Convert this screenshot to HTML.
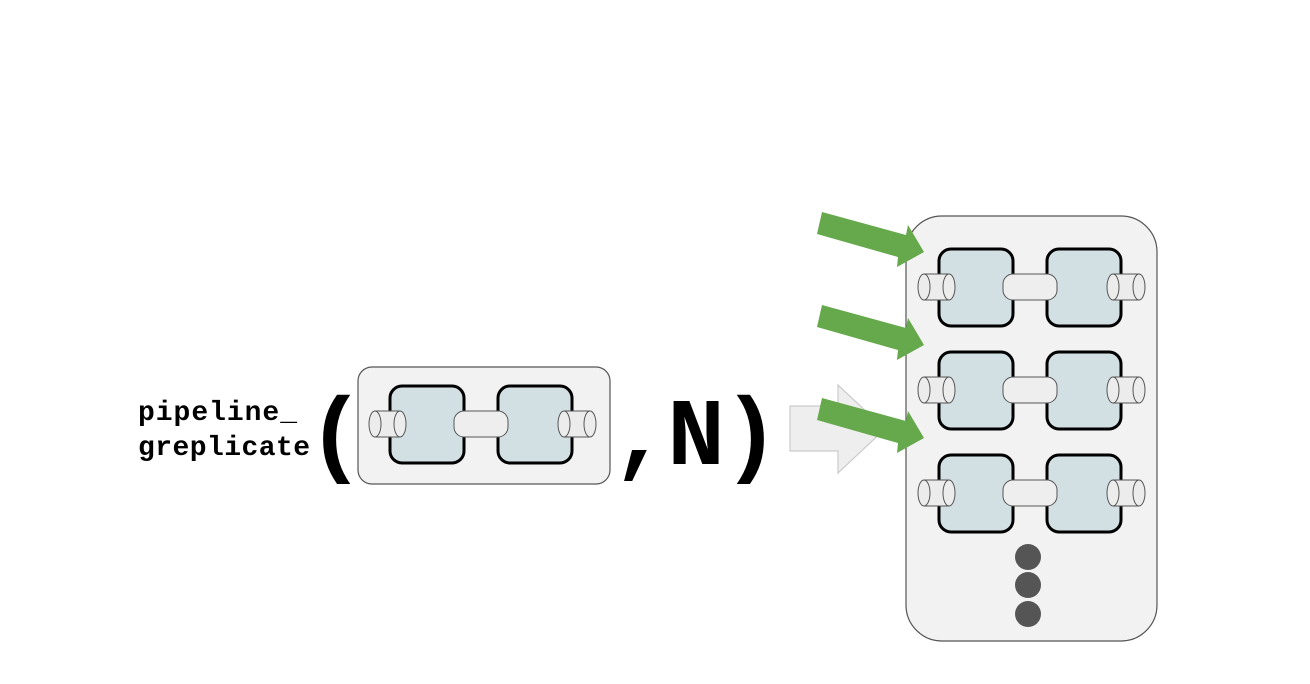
<!DOCTYPE html>
<html><head><meta charset="utf-8"><style>
html,body{margin:0;padding:0;background:#fff;width:1310px;height:684px;overflow:hidden}
svg{display:block}
</style></head><body>
<svg width="1310" height="684" viewBox="0 0 1310 684">
<defs>
<g id="pipe">
  <rect x="0" y="0" width="74" height="77" rx="12" fill="#d2e0e3" stroke="#000" stroke-width="3"/>
  <rect x="108" y="0" width="74" height="77" rx="12" fill="#d2e0e3" stroke="#000" stroke-width="3"/>
  <path d="M-15 25 H10 V51 H-15 Z" fill="#ececec" stroke="#555" stroke-width="1"/>
  <ellipse cx="-15" cy="38" rx="6" ry="13" fill="#ececec" stroke="#555" stroke-width="1"/>
  <ellipse cx="10" cy="38" rx="6" ry="13" fill="#ececec" stroke="#555" stroke-width="1"/>
  <rect x="64" y="25" width="54" height="26" rx="10" fill="#eeeeee" stroke="#555" stroke-width="1"/>
  <path d="M174 25 H200 V51 H174 Z" fill="#ececec" stroke="#555" stroke-width="1"/>
  <ellipse cx="174" cy="38" rx="6" ry="13" fill="#ececec" stroke="#555" stroke-width="1"/>
  <ellipse cx="200" cy="38" rx="6" ry="13" fill="#ececec" stroke="#555" stroke-width="1"/>
</g>
</defs>
<text x="138" y="420" font-family="Liberation Mono, monospace" font-weight="bold" font-size="28" fill="#000" textLength="159">pipeline_</text>
<text x="138" y="455" font-family="Liberation Mono, monospace" font-weight="bold" font-size="28" fill="#000" textLength="172">greplicate</text>
<text x="307" y="464" font-family="Liberation Mono, monospace" font-weight="bold" font-size="96" fill="#000">(</text>
<g>
  <rect x="358" y="367" width="252" height="117" rx="14" fill="#f2f2f2" stroke="#555" stroke-width="1.2"/>
  <use href="#pipe" x="390" y="386"/>
</g>
<text x="612" y="464" font-family="Liberation Mono, monospace" font-weight="bold" font-size="96" fill="#000" textLength="168">,N)</text>
<polygon points="790,406 838,406 838,385 885,429 838,473 838,451 790,451" fill="#eeeeee" stroke="#cccccc" stroke-width="1.2"/>
<g>
  <rect x="906" y="216" width="251" height="425" rx="36" fill="#f2f2f2" stroke="#555" stroke-width="1.2"/>
  <use href="#pipe" x="939" y="249"/>
  <use href="#pipe" x="939" y="352"/>
  <use href="#pipe" x="939" y="455"/>
  <circle cx="1028" cy="557" r="13" fill="#555"/>
  <circle cx="1028" cy="585" r="13" fill="#555"/>
  <circle cx="1028" cy="614" r="13" fill="#555"/>
</g>
<g fill="#66a84c">
  <polygon points="822,212 906,235 908,225 924,252 897,267 898,257 817,234"/>
  <polygon points="822,305 906,328 908,318 924,345 897,360 898,350 817,327"/>
  <polygon points="822,398 906,421 908,411 924,438 897,453 898,443 817,420"/>
</g>
</svg>
</body></html>
